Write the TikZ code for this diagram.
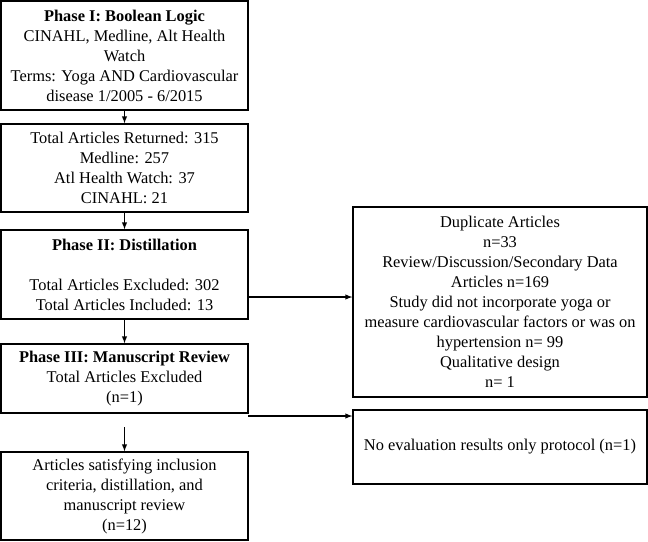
\documentclass[tikz,border=0pt]{standalone}
\usepackage{fontspec}
\setmainfont{Liberation Serif}
\usetikzlibrary{shapes,arrows,positioning}
\tikzstyle{leftblock}=[rectangle, draw, align=center, line width=1.3pt, minimum width=247pt, inner sep=2pt]
\tikzstyle{rightblock}=[rectangle, draw, align=center, line width=1.3pt, minimum width=294pt, inner sep=2pt]

\begin{document}
\begin{tikzpicture}[x=1pt,y=1pt,every node/.style={font=\fontsize{16.4}{20}\selectfont}]
\useasboundingbox (0,0) rectangle (648,-541);

\node[leftblock, minimum height=109pt](p1) at (124.5,-55.5) {\textbf{Phase I: Boolean Logic}\\ CINAHL, Medline, Alt Health\\ Watch\\ Terms: Yoga AND Cardiovascular\\ disease 1/2005 - 6/2015};
\node[leftblock, minimum height=88pt](p2) at (124.5,-168) {Total Articles Returned: 315\\ Medline: 257\\ Atl Health Watch: 37\\ CINAHL: 21};
\node[leftblock, minimum height=89pt](p3) at (124.5,-274.5) {\textbf{Phase II: Distillation}\\ \mbox{}\\ Total Articles Excluded: 302\\ Total Articles Included: 13};
\node[leftblock, minimum height=69pt](p4) at (124.5,-378.5) {\textbf{Phase III: Manuscript Review}\\ Total Articles Excluded\\ (n=1)};
\node[leftblock, minimum height=88pt](p5) at (124.5,-496) {Articles satisfying inclusion\\ criteria, distillation, and\\ manuscript review\\ (n=12)};
\node[rightblock, minimum height=190pt](r1) at (500,-302) {Duplicate Articles\\ n=33\\ Review/Discussion/Secondary Data\\ Articles n=169\\ Study did not incorporate yoga or\\ measure cardiovascular factors or was on\\ hypertension n= 99\\ Qualitative design\\ n= 1};
\node[rightblock, minimum height=74pt](r2) at (500,-447) {No evaluation results only protocol (n=1)};

\coordinate (c1) at (248,-297);
\coordinate (c2) at (248,-416);
\coordinate (c3) at (124.5,-427);

\draw[-latex,line width=1.4pt](p1.south) -- (p2.north);
\draw[-latex,line width=1.4pt](p2.south) -- (p3.north);
\draw[-latex,line width=1.4pt](p3.south) -- (p4.north);
\draw[-latex,line width=1.4pt](c3) -- (p5.north);
\draw[-latex,line width=1.4pt](c1) -- (c1 -| r1.west);
\draw[-latex,line width=1.4pt](c2) -- (c2 -| r2.west);

\end{tikzpicture}
\end{document}
